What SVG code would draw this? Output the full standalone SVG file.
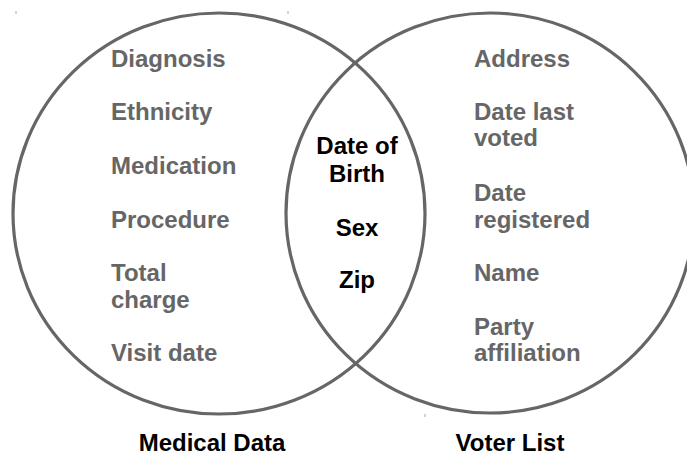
<svg xmlns="http://www.w3.org/2000/svg" width="687" height="457" viewBox="0 0 687 457">
<style>
.c{fill:none;stroke:#666;stroke-width:3.2}
.t{font-family:"Liberation Sans",Arial,sans-serif;font-weight:bold;font-size:24px;fill:#666}
.k{font-family:"Liberation Sans",Arial,sans-serif;font-weight:bold;font-size:24px;fill:#000;text-anchor:middle}
.tick{stroke:#aaa;stroke-width:1}
</style>
<rect width="687" height="457" fill="#fff"/>
<g id="medical">
<ellipse class="c" cx="219" cy="213.5" rx="206" ry="200.5"/>
<text class="t" x="111" y="67">Diagnosis</text>
<text class="t" x="111" y="120">Ethnicity</text>
<text class="t" x="111" y="174">Medication</text>
<text class="t" x="111" y="228">Procedure</text>
<text class="t" x="111" y="281">Total</text>
<text class="t" x="111" y="308">charge</text>
<text class="t" x="111" y="361">Visit date</text>
<text class="k" x="212" y="451">Medical Data</text>
</g>
<g id="voter">
<ellipse class="c" cx="490" cy="213" rx="204" ry="200"/>
<text class="t" x="474" y="67">Address</text>
<text class="t" x="474" y="120">Date last</text>
<text class="t" x="474" y="146">voted</text>
<text class="t" x="474" y="201">Date</text>
<text class="t" x="474" y="228">registered</text>
<text class="t" x="474" y="281">Name</text>
<text class="t" x="474" y="335">Party</text>
<text class="t" x="474" y="361">affiliation</text>
<text class="k" x="510" y="451">Voter List</text>
</g>
<g id="overlap">
<text class="k" x="357" y="154">Date of</text>
<text class="k" x="357" y="182">Birth</text>
<text class="k" x="357" y="236">Sex</text>
<text class="k" x="357" y="288">Zip</text>
</g>
<g id="connectors"></g>
<g id="ticks">
<line class="tick" x1="16" y1="11" x2="16" y2="14"/>
<line class="tick" x1="288" y1="11" x2="288" y2="14"/>
<line class="tick" x1="425" y1="414" x2="425" y2="417"/>
</g>
</svg>
